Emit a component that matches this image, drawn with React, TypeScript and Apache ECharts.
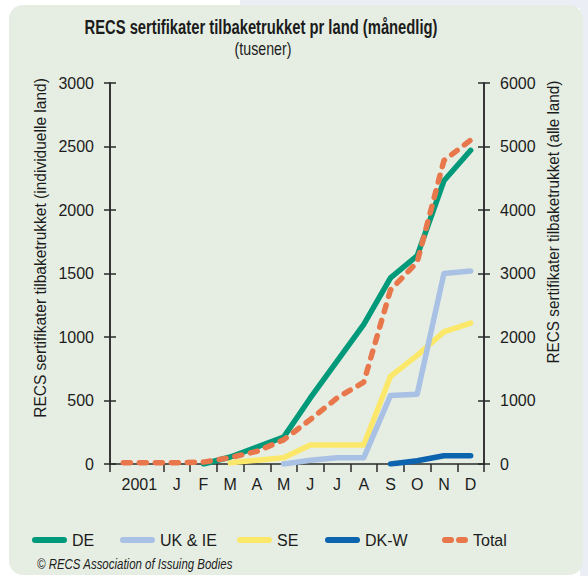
import React, { useEffect, useRef } from "react";
import * as echarts from "echarts";

const categories = ["2001", "", "J", "F", "M", "A", "M", "J", "J", "A", "S", "O", "N", "D"];
const deValues = [null, null, null, 0, 55, 134, 212, 520, 810, 1100, 1465, 1640, 2230, 2470];
const ukValues = [null, null, null, null, null, null, 0, 30, 50, 50, 540, 550, 1500, 1520];
const seValues = [null, null, null, null, 10, 30, 50, 150, 150, 150, 690, 855, 1040, 1110];
const dkValues = [null, null, null, null, null, null, null, null, null, null, 0, 25, 65, 65];
const totalValues = [20, 20, 20, 30, 100, 200, 380, 700, 1040, 1290, 2740, 3180, 4780, 5100];
const seriesNames = ["DE", "UK & IE", "SE", "DK-W", "Total"];
const leftTicks = [0, 3000, 500];
const rightTicks = [0, 6000, 1000];

const FONT = "'Liberation Sans', Arial, sans-serif";
const TXT = "#1c1c1c";
const AXIS = "#2a2a2a";

const PILL = "path://M3 0H32A3 3 0 0 1 32 6H3A3 3 0 0 1 3 0Z";
const DASH2 = "path://M3 0H9A3 3 0 0 1 9 6H3A3 3 0 0 1 3 0ZM17 0H23A3 3 0 0 1 23 6H17A3 3 0 0 1 17 0Z";

function fitScale(text: string, font: string, target: number): number {
  const ctx = document.createElement("canvas").getContext("2d");
  if (!ctx) return 1;
  ctx.font = font;
  const w = ctx.measureText(text).width;
  return w > 0 ? target / w : 1;
}

export default function App() {
  const ref = useRef<HTMLDivElement>(null);
  useEffect(() => {
    if (!ref.current) return;
    const chart = echarts.init(ref.current, null, { renderer: "svg" });
    const yBase = (side: "left" | "right", ticks: number[], inside: boolean, labels: boolean) => ({
      type: "value",
      position: side,
      min: ticks[0],
      max: ticks[1],
      interval: ticks[2],
      splitLine: { show: false },
      axisLine: { show: true, lineStyle: { color: AXIS, width: 1.5 } },
      axisTick: { show: true, inside, length: 6, lineStyle: { color: AXIS, width: 1.5 } },
      axisLabel: labels
        ? { show: true, fontFamily: FONT, fontSize: 16, color: TXT, margin: 16, formatter: (v: number) => String(v) }
        : { show: false },
    });
    const line = (name: string, data: any[], color: string, yAxisIndex: number, z: number, dashed = false) => ({
      name,
      type: "line",
      data,
      yAxisIndex,
      z,
      symbol: "none",
      showSymbol: false,
      connectNulls: false,
      itemStyle: { color },
      lineStyle: {
        color,
        width: 5.5,
        cap: "round",
        join: "round",
        type: dashed ? [7, 9] : "solid",
      },
    });
    const titleText = "RECS sertifikater tilbaketrukket pr land (månedlig)";
    const subText = "(tusener)";
    const leftName = "RECS sertifikater tilbaketrukket (individuelle land)";
    const rightName = "RECS sertifikater tilbaketrukket (alle land)";
    const credit = "© RECS Association of Issuing Bodies";
    const sTitle = fitScale(titleText, "bold 20px " + FONT, 353);
    const sSub = fitScale(subText, "18px " + FONT, 57);
    const sLeft = fitScale(leftName, "17px " + FONT, 340);
    const sRight = fitScale(rightName, "17px " + FONT, 283);
    const sCredit = fitScale(credit, "italic 15px " + FONT, 196);
    const legendLefts = [27, 115, 232, 320, 437];
    chart.setOption({
      animation: false,
      backgroundColor: "#ffffff",
      grid: { left: 110, right: 104, top: 83, bottom: 112, containLabel: false },
      graphic: [
        { type: "rect", z: -20, shape: { x: 240, y: 0, width: 348, height: 8 }, style: { fill: "#eceef6" } },
        { type: "rect", z: -20, shape: { x: 580, y: 0, width: 8, height: 576 }, style: { fill: "#eceef6" } },
        { type: "rect", z: -10, shape: { x: 9, y: 5, width: 574, height: 570, r: 14 }, style: { fill: "#e6eee3" } },
        {
          type: "text", x: 261, y: 27, z: 10, scaleX: sTitle,
          style: { text: titleText, fontFamily: FONT, fontWeight: "bold", fontSize: 20, fill: TXT, align: "center", verticalAlign: "middle" },
        },
        {
          type: "text", x: 263, y: 48, z: 10, scaleX: sSub,
          style: { text: subText, fontFamily: FONT, fontSize: 18, fill: TXT, align: "center", verticalAlign: "middle" },
        },
        {
          type: "text", x: 40, y: 248, rotation: Math.PI / 2, z: 10, scaleX: sLeft,
          style: { text: leftName, fontFamily: FONT, fontSize: 17, fill: TXT, align: "center", verticalAlign: "middle" },
        },
        {
          type: "text", x: 553, y: 222, rotation: Math.PI / 2, z: 10, scaleX: sRight,
          style: { text: rightName, fontFamily: FONT, fontSize: 17, fill: TXT, align: "center", verticalAlign: "middle" },
        },
        {
          type: "text", x: 37, y: 564, z: 10, scaleX: sCredit,
          style: { text: credit, fontFamily: FONT, fontStyle: "italic", fontSize: 15, fill: TXT, align: "left", verticalAlign: "middle" },
        },
      ],
      legend: seriesNames.map((n, i) => ({
        left: legendLefts[i],
        top: 527,
        itemWidth: i === 4 ? 26 : 35,
        itemHeight: 6,
        itemGap: 0,
        icon: i === 4 ? DASH2 : PILL,
        itemStyle: { borderWidth: 0 },
        lineStyle: { width: 0 },
        textStyle: { fontFamily: FONT, fontSize: 16, color: TXT },
        data: [n],
      })),
      xAxis: {
        type: "category",
        data: categories,
        boundaryGap: true,
        axisLine: { show: true, lineStyle: { color: AXIS, width: 1.5 } },
        axisTick: {
          show: true,
          length: 8,
          interval: (index: number) => index !== 1,
          lineStyle: { color: AXIS, width: 1.5 },
        },
        axisLabel: {
          interval: 0,
          margin: 12,
          fontFamily: FONT,
          fontSize: 16,
          color: TXT,
          formatter: (v: string, i: number) => (i === 0 ? "{y|" + v + "}" : v),
          rich: { y: { fontFamily: FONT, fontSize: 16, color: TXT, padding: [0, 0, 0, 32] } },
        },
        splitLine: { show: false },
      },
      yAxis: [
        yBase("left", leftTicks, false, true),
        yBase("right", rightTicks, false, true),
        yBase("left", leftTicks, true, false),
        yBase("right", rightTicks, true, false),
      ],
      series: [
        line(seriesNames[0], deValues, "#009a7b", 0, 5),
        line(seriesNames[1], ukValues, "#a8c1e4", 0, 3),
        line(seriesNames[2], seValues, "#fbe86a", 0, 2),
        line(seriesNames[3], dkValues, "#0c63ae", 0, 4),
        line(seriesNames[4], totalValues, "#e8774c", 1, 6, true),
      ],
    });
    return () => chart.dispose();
  }, []);
  return <div ref={ref} style={{ position: "fixed", left: 0, top: 0, width: 588, height: 576 }} />;
}
